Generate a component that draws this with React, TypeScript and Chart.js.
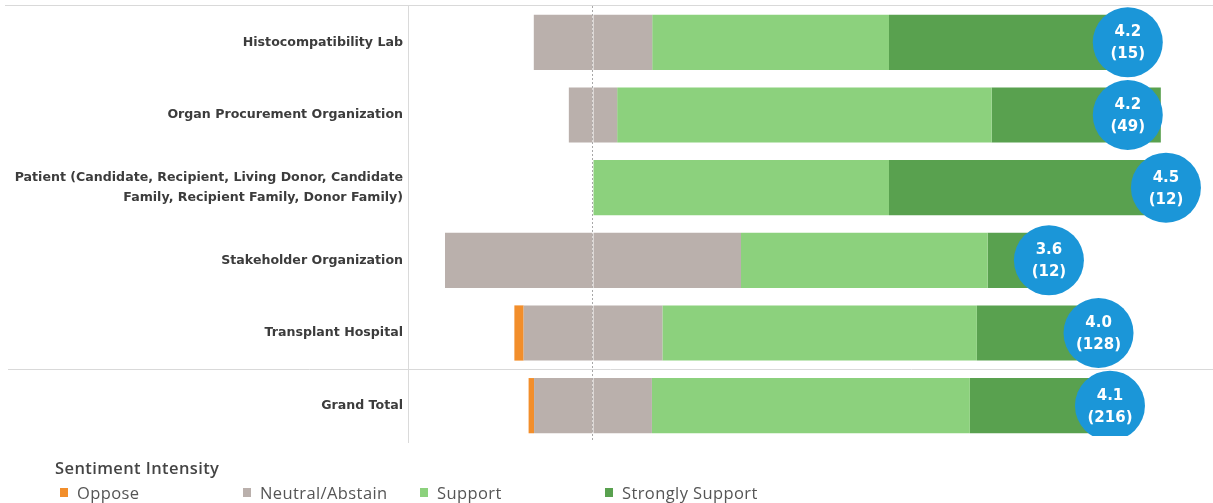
import React, { useEffect, useRef } from "react";
import { Chart, registerables } from "chart.js";

Chart.register(...registerables);

const categories: (string | string[])[] = [
  "Histocompatibility Lab",
  "Organ Procurement Organization",
  ["Patient (Candidate, Recipient, Living Donor, Candidate", "Family, Recipient Family, Donor Family)"],
  "Stakeholder Organization",
  "Transplant Hospital",
  "Grand Total",
];
const opposeCounts = [0, 0, 0, 0, 2, 2];
const neutralCounts = [3, 4, 0, 6, 30, 43];
const supportCounts = [6, 31, 6, 5, 68, 116];
const stronglyCounts = [6, 14, 6, 1, 28, 55];
const responseTotals = [15, 49, 12, 12, 128, 216];
const avgScores = [4.2, 4.2, 4.5, 3.58, 3.97, 4.06];
const avgLabels = ["4.2", "4.2", "4.5", "3.6", "4.0", "4.1"];
const legendLabels = ["Oppose", "Neutral/Abstain", "Support", "Strongly Support"];

const COLORS = {
  oppose: "#f28e2b",
  neutral: "#bab0ac",
  support: "#8cd17d",
  strong: "#59a14f",
  bubble: "#1b96d8",
};

const pct = (arr: number[]) => arr.map((v, i) => (v / responseTotals[i]) * 100);

const FONT = "'Open Sans', 'DejaVu Sans', sans-serif";
const LABEL_FONT = "'DejaVu Sans', 'Open Sans', sans-serif";

export default function App() {
  const ref = useRef<HTMLCanvasElement | null>(null);

  useEffect(() => {
    if (!ref.current) return;
    const neutralPct = pct(neutralCounts);
    const opposePct = pct(opposeCounts);

    const framePlugin = {
      id: "frame",
      beforeDatasetsDraw(chart: any) {
        const { ctx, chartArea } = chart;
        const y = chart.scales.y;
        ctx.save();
        ctx.strokeStyle = "#d9d9d9";
        ctx.lineWidth = 1;
        const top = Math.round(chartArea.top) - 0.5;
        ctx.beginPath();
        ctx.moveTo(5, top);
        ctx.lineTo(chart.width, top);
        const mid = Math.round((y.getPixelForValue(4) + y.getPixelForValue(5)) / 2) + 0.5;
        ctx.moveTo(8, mid);
        ctx.lineTo(chart.width, mid);
        ctx.stroke();
        ctx.restore();
      },
      afterDatasetsDraw(chart: any) {
        const { ctx } = chart;
        const meta = chart.getDatasetMeta(5);
        ctx.save();
        ctx.fillStyle = "#ffffff";
        ctx.textAlign = "center";
        ctx.textBaseline = "middle";
        ctx.font = `bold 15px ${LABEL_FONT}`;
        meta.data.forEach((el: any, i: number) => {
          ctx.fillText(avgLabels[i], el.x, el.y - 10);
          ctx.fillText(`(${responseTotals[i]})`, el.x, el.y + 12);
        });
        ctx.restore();
      },
    };

    const chart = new Chart(ref.current, {
      type: "bar",
      data: {
        labels: categories as any,
        datasets: [
          {
            label: "Neutral/Abstain",
            data: neutralPct.map((v) => -v / 2),
            backgroundColor: COLORS.neutral,
            stack: "s",
          },
          {
            label: "Oppose",
            data: opposePct.map((v) => -v),
            backgroundColor: COLORS.oppose,
            stack: "s",
          },
          {
            label: "Neutral/Abstain ",
            data: neutralPct.map((v) => v / 2),
            backgroundColor: COLORS.neutral,
            stack: "s",
          },
          {
            label: "Support",
            data: pct(supportCounts),
            backgroundColor: COLORS.support,
            stack: "s",
          },
          {
            label: "Strongly Support",
            data: pct(stronglyCounts),
            backgroundColor: COLORS.strong,
            stack: "s",
          },
          {
            type: "bubble",
            label: "Average",
            order: -1,
            data: avgScores.map((v, i) => ({ x: v, y: i, r: 35 })),
            backgroundColor: COLORS.bubble,
            borderWidth: 0,
            xAxisID: "x2",
            yAxisID: "y",
            clip: { left: 0, top: 0, right: 0, bottom: -6 },
          } as any,
        ],
      },
      options: {
        indexAxis: "y",
        animation: false,
        responsive: false,
        maintainAspectRatio: false,
        layout: { autoPadding: false, padding: { top: 6, bottom: 61, left: 0, right: 0 } },
        datasets: {
          bar: { barPercentage: 0.76, categoryPercentage: 1, borderWidth: 0 },
        },
        plugins: {
          legend: { display: false },
          tooltip: { enabled: false },
        },
        scales: {
          x: {
            type: "linear",
            stacked: true,
            min: -31.25,
            max: 104.73,
            afterBuildTicks: (s: any) => {
              s.ticks = [{ value: 0 }];
            },
            ticks: { display: false },
            border: { display: false, dash: [2, 2] },
            grid: {
              drawTicks: false,
              color: "#a8a8a8",
              lineWidth: 1,
            },
          } as any,
          x2: {
            type: "linear",
            display: false,
            stacked: false,
            min: -1.459,
            max: 4.87,
          },
          y: {
            type: "category",
            stacked: true,
            offset: true,
            afterFit: (s: any) => {
              s.width = 408;
              s.paddingTop = 0;
              s.paddingBottom = 0;
            },
            border: { display: true, color: "#dadada", width: 1 },
            grid: { display: false, drawTicks: false },
            ticks: {
              autoSkip: false,
              padding: 5,
              color: "#3c3c3c",
              font: { family: LABEL_FONT, size: 12.6, weight: "bold", lineHeight: 1.6 },
            },
          } as any,
        },
      },
      plugins: [framePlugin],
    } as any);

    return () => chart.destroy();
  }, []);

  const legendColors = [COLORS.oppose, COLORS.neutral, COLORS.support, COLORS.strong];
  const legendX = [60, 243, 420, 605];

  return (
    <div style={{ position: "absolute", left: 0, top: 0, width: 1213, height: 503, background: "#fff" }}>
      <canvas ref={ref} width={1213} height={503} style={{ display: "block", width: 1213, height: 503 }} />
      <div
        style={{
          position: "absolute",
          left: 55,
          top: 456,
          fontFamily: FONT,
          fontSize: 16.5,
          letterSpacing: 0.4,
          fontWeight: 600,
          color: "#444",
          whiteSpace: "nowrap",
        }}
      >
        Sentiment Intensity
      </div>
      {legendLabels.map((lab, i) => (
        <div
          key={lab}
          style={{
            position: "absolute",
            left: legendX[i],
            top: 482,
            height: 20,
            display: "flex",
            alignItems: "center",
            fontFamily: FONT,
            fontSize: 16.5,
            letterSpacing: 0.4,
            color: "#555",
            whiteSpace: "nowrap",
          }}
        >
          <span style={{ display: "inline-block", width: 8, height: 9, background: legendColors[i], marginRight: 9 }} />
          {lab}
        </div>
      ))}
    </div>
  );
}
